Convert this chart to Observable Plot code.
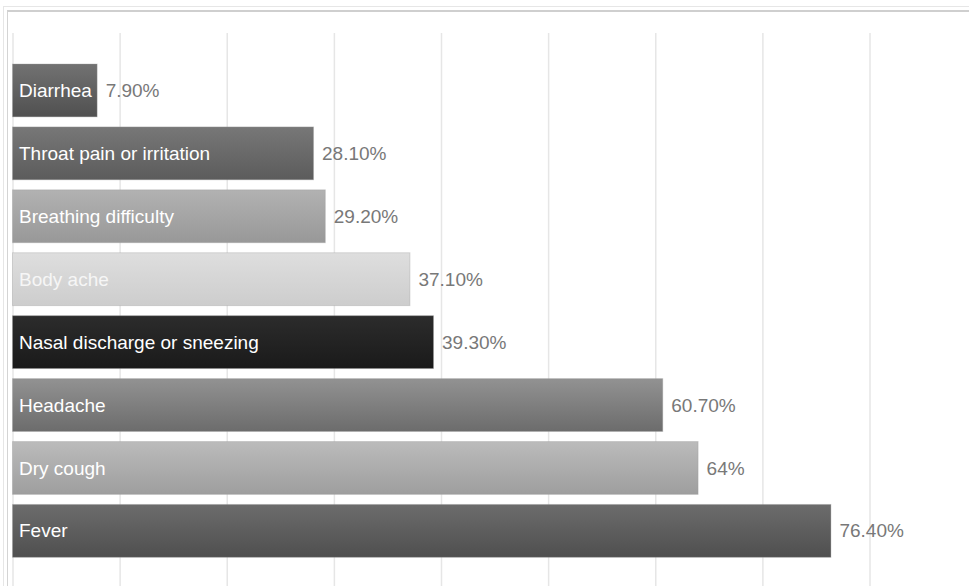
<!DOCTYPE html>
<html>
<head>
<meta charset="utf-8">
<script src="https://cdn.jsdelivr.net/npm/d3@7"></script>
<script src="https://cdn.jsdelivr.net/npm/@observablehq/plot@0.6"></script>
<style>
  html, body { margin: 0; padding: 0; background: #fff; }
  #wrap { position: relative; width: 969px; height: 586px; overflow: hidden; font-family: "Liberation Sans", Arial, sans-serif; }
  #outer { position: absolute; left: 3px; top: 6px; right: -10px; bottom: -10px; border-top: 1px solid #e6e6e6; border-left: 1px solid #e6e6e6; }
  #inner { position: absolute; left: 7px; top: 10px; right: -10px; bottom: -10px; border-top: 2px solid #cfcfcf; border-left: 1px solid #d4d4d4; }
  #chart { position: absolute; left: 0; top: 0; }
</style>
</head>
<body>
<div id="wrap">
  <div id="outer"></div>
  <div id="inner"></div>
  <div id="chart"></div>
</div>
<script>
const categories = ["Diarrhea", "Throat pain or irritation", "Breathing difficulty", "Body ache", "Nasal discharge or sneezing", "Headache", "Dry cough", "Fever"];
const values = [7.9, 28.1, 29.2, 37.1, 39.3, 60.7, 64, 76.4];
const valueLabels = ["7.90%", "28.10%", "29.20%", "37.10%", "39.30%", "60.70%", "64%", "76.40%"];
const gradTop = ["#727272", "#777777", "#b2b2b2", "#dedede", "#2c2c2c", "#929292", "#bbbbbb", "#6c6c6c"];
const gradBottom = ["#505050", "#5c5c5c", "#989898", "#cdcdcd", "#1a1a1a", "#6c6c6c", "#9e9e9e", "#4f4f4f"];
const labelColors = ["#ffffff", "#ffffff", "#ffffff", "#f6f6f6", "#ffffff", "#ffffff", "#ffffff", "#ffffff"];
const gridTicks = [0, 10, 20, 30, 40, 50, 60, 70, 80];

const data = categories.map((c, i) => ({cat: c, value: values[i], label: valueLabels[i], fill: `url(#grad${i})`, textColor: labelColors[i]}));

const chart = Plot.plot({
  width: 969,
  height: 586,
  marginTop: 33,
  marginBottom: 0,
  marginLeft: 0,
  marginRight: 0,
  style: {background: "transparent", fontFamily: "'Liberation Sans', Arial, sans-serif"},
  x: {domain: [0, 80], range: [12.5, 869.5], axis: null},
  y: {domain: categories, range: [64, 557.3], paddingInner: 0.16, paddingOuter: 0, round: false, axis: null},
  color: {type: "identity"},
  marks: [
    Plot.ruleX(gridTicks, {x: d => d, stroke: "#e6e6e6", strokeWidth: 1.5}),
    Plot.barX(data, {x: "value", y: "cat", fill: "fill", stroke: "#9a9a9a", strokeOpacity: 0.35, strokeWidth: 1}),
    Plot.text(data, {x: 0, y: "cat", text: "cat", dx: 6, textAnchor: "start", fill: "textColor", fontSize: 19}),
    Plot.text(data, {x: "value", y: "cat", text: "label", dx: 8, textAnchor: "start", fill: "#787878", fontSize: 19})
  ]
});

const svg = d3.select(chart);
const defs = svg.insert("defs", ":first-child");
categories.forEach((c, i) => {
  const g = defs.append("linearGradient").attr("id", `grad${i}`).attr("x1", 0).attr("y1", 0).attr("x2", 0).attr("y2", 1);
  g.append("stop").attr("offset", "0%").attr("stop-color", gradTop[i]);
  g.append("stop").attr("offset", "100%").attr("stop-color", gradBottom[i]);
});

document.getElementById("chart").appendChild(chart);
</script>
</body>
</html>
